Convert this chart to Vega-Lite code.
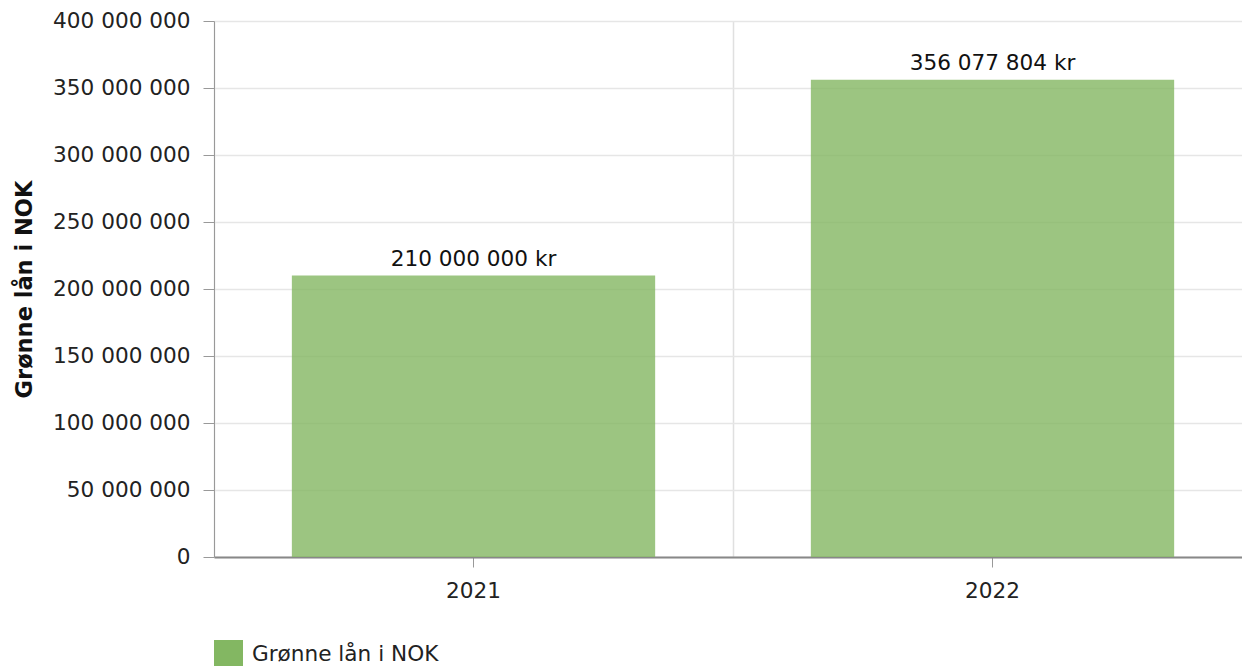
{
  "$schema": "https://vega.github.io/schema/vega-lite/v6.json",
  "autosize": "none",
  "width": 1028,
  "height": 536,
  "padding": {"left": 214, "top": 21, "right": 0, "bottom": 109},
  "background": "white",
  "config": {
    "locale": {"number": {"decimal": ",", "thousands": " ", "grouping": [3], "currency": ["", " kr"]}},
    "font": "DejaVu Sans",
    "view": {"stroke": null}
  },
  "data": {"values": [
    {"year": "2021", "value": 210000000},
    {"year": "2022", "value": 356077804}
  ]},
  "resolve": {"axis": {"x": "independent"}},
  "layer": [
    {
      "mark": {"type": "bar", "width": {"band": 0.7}, "fillOpacity": 0.8},
      "encoding": {
        "x": {"field": "year", "type": "nominal",
          "scale": {"paddingInner": 0, "paddingOuter": 0, "range": [0, 1038]},
          "axis": {"title": null, "labelAngle": 0, "labelFontSize": 21.6, "labelColor": "#222", "labelPadding": 13,
            "tickSize": 10, "tickColor": "#999", "domainColor": "#888", "domainWidth": 2, "grid": false, "orient": "bottom"}},
        "y": {"field": "value", "type": "quantitative",
          "scale": {"domain": [0, 400000000], "nice": false},
          "axis": {"title": "Grønne lån i NOK", "titleFontSize": 22.5, "titleFontWeight": "bold", "titleColor": "#111", "titlePadding": 16,
            "values": [0, 50000000, 100000000, 150000000, 200000000, 250000000, 300000000, 350000000, 400000000],
            "format": ",d", "labelFontSize": 21.6, "labelColor": "#222", "labelPadding": 13,
            "tickSize": 11, "tickColor": "#999", "domainColor": "#999", "gridColor": "#e6e6e6", "gridWidth": 1.5}},
        "color": {"datum": "Grønne lån i NOK", "type": "nominal",
          "scale": {"range": ["#83b762"]},
          "legend": {"title": null, "orient": "none", "legendX": 0, "legendY": 619, "symbolType": "square", "symbolSize": 841,
            "symbolOpacity": 1, "symbolStrokeWidth": 0, "labelFontSize": 21.6, "labelColor": "#222", "labelOffset": 9, "labelLimit": 0, "padding": 0}}
      }
    },
    {
      "mark": {"type": "text", "baseline": "alphabetic", "dy": -10, "fontSize": 21.6, "color": "#111"},
      "encoding": {
        "x": {"field": "year", "type": "nominal",
          "axis": {"title": null, "orient": "top", "labels": false, "ticks": false, "domain": false, "grid": true,
            "tickBand": "extent", "gridColor": "#e0e0e0", "gridWidth": 1.5}},
        "y": {"field": "value", "type": "quantitative"},
        "text": {"field": "value", "type": "quantitative", "format": "$,d"}
      }
    }
  ]
}
